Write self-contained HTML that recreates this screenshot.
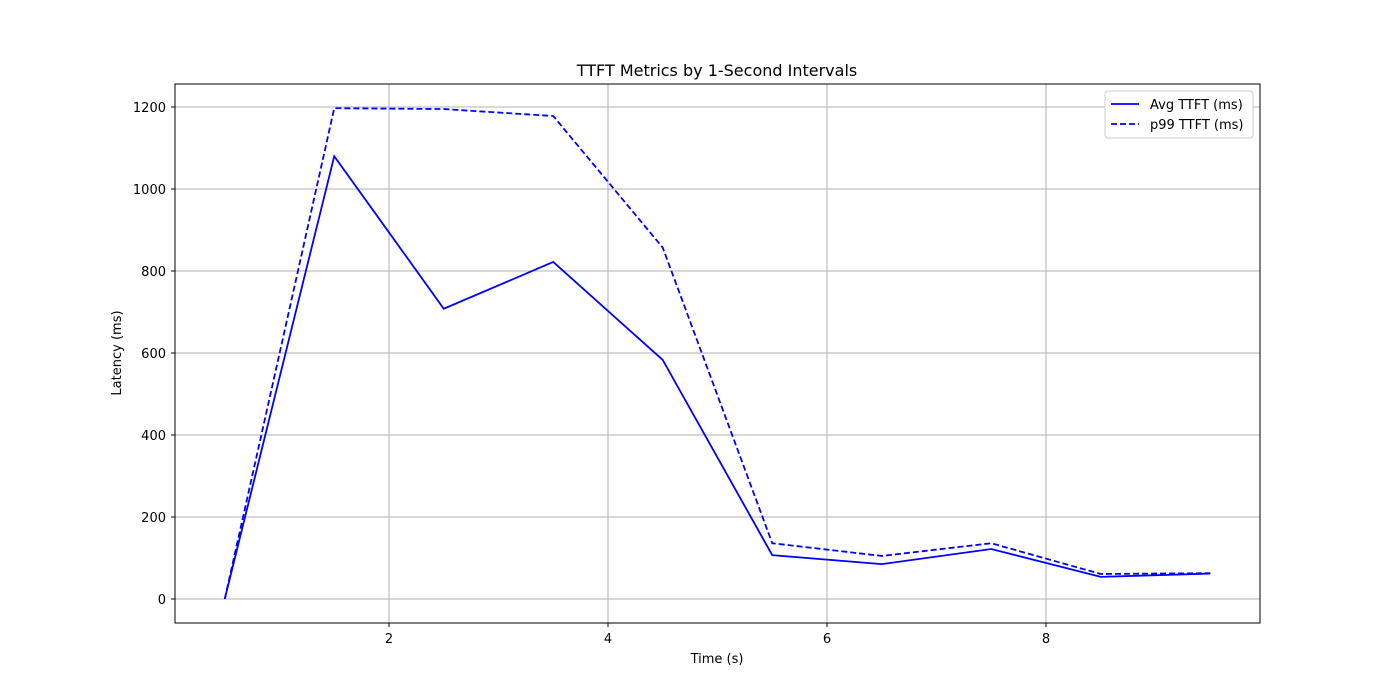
<!DOCTYPE html>
<html><head><meta charset="utf-8"><style>
body{margin:0;background:#fff;}
svg{display:block;font-family:"DejaVu Sans","Liberation Sans",sans-serif;}
</style></head><body>
<svg id="chart" width="1400" height="700">
<rect width="1400" height="700" fill="#fff"/>
<text x="717" y="76" font-size="16" text-anchor="middle">TTFT Metrics by 1-Second Intervals</text>
<g id="grid"></g>
<g id="series"></g>
<rect x="175" y="84" width="1085" height="539" fill="none" stroke="#000" stroke-width="1"/>
<g id="ticks"></g>
<text x="717" y="663" font-size="13" text-anchor="middle">Time (s)</text>
<text x="121" y="353" font-size="13" text-anchor="middle" transform="rotate(-90 121 353)">Latency (ms)</text>
<g>
<rect x="1105" y="91" width="148" height="47" rx="3" fill="#fff" stroke="#ccc"/>
<line x1="1111" y1="104" x2="1139" y2="104" stroke="#00f" stroke-width="1.8"/>
<text x="1150" y="109" font-size="13">Avg TTFT (ms)</text>
<line x1="1111" y1="124" x2="1139" y2="124" stroke="#00f" stroke-width="1.8" stroke-dasharray="6,3"/>
<text x="1150" y="129" font-size="13">p99 TTFT (ms)</text>
</g>
</svg>
<script>
const times=[0.5,1.5,2.5,3.5,4.5,5.5,6.5,7.5,8.5,9.5];
const avgTTFT=[0,1080,708,822,583,107,85,122,54,62];
const p99TTFT=[0,1197,1195,1178,857,136,105,136,61,63];
const xTicks=[2,4,6,8];
const yTicks=[0,200,400,600,800,1000,1200];
const NS="http://www.w3.org/2000/svg";
const X=v=>170+109.5*v;
const Y=v=>599-0.41*v;
const grid=document.getElementById('grid'),ticks=document.getElementById('ticks'),ser=document.getElementById('series');
function mk(t,a,p){const e=document.createElementNS(NS,t);for(const k in a)e.setAttribute(k,a[k]);p.appendChild(e);return e;}
xTicks.forEach(v=>{
 const g=mk('line',{x1:X(v),x2:X(v),y1:84,y2:623,stroke:'#b0b0b0','stroke-width':1},grid);
 
 
 mk('line',{x1:X(v),x2:X(v),y1:623,y2:627,stroke:'#000'},ticks);
 const t=mk('text',{x:X(v),y:643,'font-size':13,'text-anchor':'middle'},ticks);t.textContent=v;
 
 
});
yTicks.forEach(v=>{
 const g=mk('line',{x1:175,x2:1260,y1:Y(v),y2:Y(v),stroke:'#b0b0b0','stroke-width':1},grid);
 
 
 mk('line',{x1:171,x2:175,y1:Y(v),y2:Y(v),stroke:'#000'},ticks);
 const t=mk('text',{x:166,y:Y(v)+5,'font-size':13,'text-anchor':'end'},ticks);t.textContent=v;
 
 
});
function line(vals,dash,name){
 const p=mk('polyline',{points:vals.map((v,i)=>X(times[i])+','+Y(v)).join(' '),fill:'none',stroke:'#00f','stroke-width':1.8},ser);
 if(dash)p.setAttribute('stroke-dasharray','6,3');
 
 
}
line(avgTTFT,false,'avg-ttft-line');
line(p99TTFT,true,'p99-ttft-line');
</script>
</body></html>
